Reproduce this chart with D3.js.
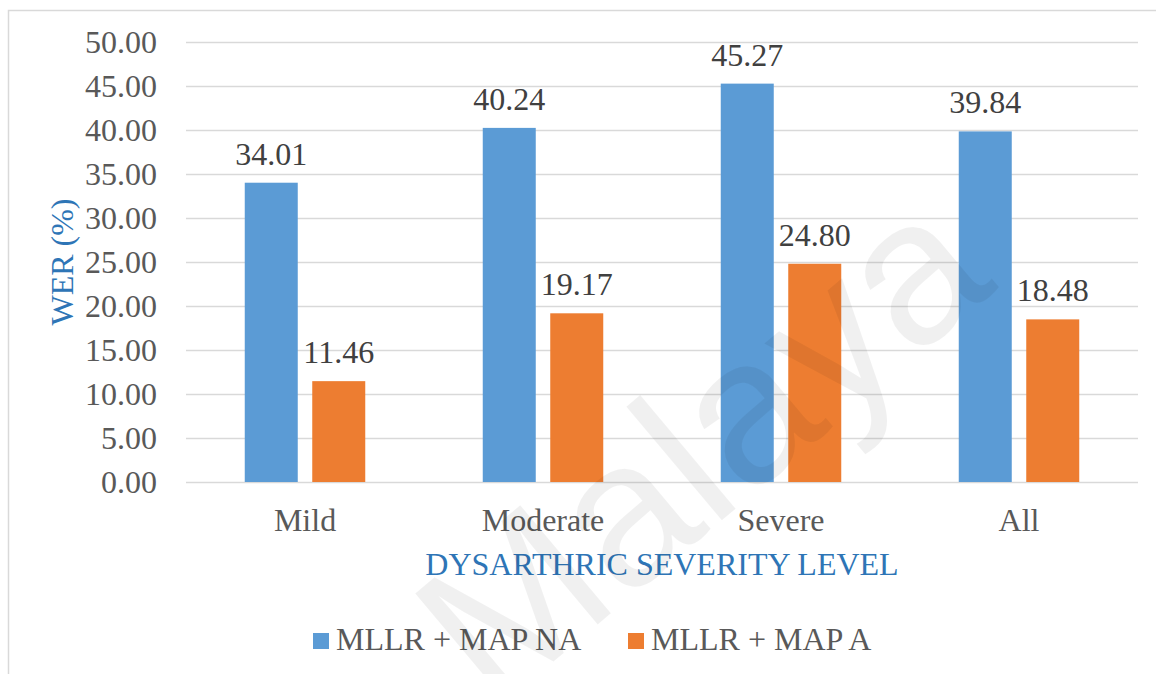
<!DOCTYPE html>
<html>
<head>
<meta charset="utf-8">
<script src="https://cdn.jsdelivr.net/npm/d3@7"></script>
<style>
  html, body { margin: 0; padding: 0; background: #fff; }
  svg { display: block; }
</style>
</head>
<body>
<svg id="chart" width="1156" height="674"></svg>
<script>
// WER by dysarthric severity level, two adaptation setups
const categories = ["Mild", "Moderate", "Severe", "All"];
const seriesNames = ["MLLR + MAP NA", "MLLR + MAP A"];
const werNA = [34.01, 40.24, 45.27, 39.84];
const werA = [11.46, 19.17, 24.80, 18.48];
const yTicks = [0, 5, 10, 15, 20, 25, 30, 35, 40, 45, 50];
const colors = ["#5B9BD5", "#ED7D31"];

const svg = d3.select("#chart");
const serif = "'Liberation Serif', 'Times New Roman', serif";
const fs = 32;

const plot = { left: 186, right: 1138, top: 42, bottom: 482 };

// outer chart frame
svg.append("rect")
  .attr("x", 8.5).attr("y", 10.5)
  .attr("width", 1300).attr("height", 800)
  .attr("fill", "none").attr("stroke", "#D9D9D9").attr("stroke-width", 1.5);

const x0 = d3.scaleBand().domain(categories).range([plot.left, plot.right]).padding(0);
const groupW = 120.5;
const x1 = d3.scaleBand().domain(seriesNames)
  .range([(x0.bandwidth() - groupW) / 2, (x0.bandwidth() + groupW) / 2])
  .paddingInner(14.5 / 67.5).paddingOuter(0);
const y = d3.scaleLinear().domain([0, 50]).range([plot.bottom, plot.top]);

// horizontal gridlines + tick labels
const yAxis = d3.axisLeft(y).tickValues(yTicks)
  .tickSize(-(plot.right - plot.left)).tickPadding(29)
  .tickFormat(d3.format(".2f"));
const gy = svg.append("g").attr("transform", `translate(${plot.left},0)`).call(yAxis);
gy.select(".domain").remove();
gy.selectAll(".tick line").attr("stroke", "#D9D9D9").attr("stroke-width", 1.6);
gy.selectAll(".tick text")
  .attr("font-family", serif).attr("font-size", fs)
  .attr("fill", "#595959");

// bars
const rows = categories.map((c, i) => ({ cat: c, vals: [werNA[i], werA[i]] }));
const groups = svg.append("g").selectAll("g").data(rows).join("g")
  .attr("transform", d => `translate(${x0(d.cat)},0)`);

groups.selectAll("rect")
  .data(d => d.vals.map((v, j) => ({ s: seriesNames[j], v, j })))
  .join("rect")
  .attr("x", d => x1(d.s))
  .attr("y", d => y(d.v))
  .attr("width", x1.bandwidth())
  .attr("height", d => y(0) - y(d.v))
  .attr("fill", d => colors[d.j]);

// value labels
groups.selectAll("text.val")
  .data(d => d.vals.map((v, j) => ({ s: seriesNames[j], v, j })))
  .join("text").attr("class", "val")
  .attr("x", d => x1(d.s) + x1.bandwidth() / 2)
  .attr("y", d => y(d.v) - 18)
  .attr("text-anchor", "middle")
  .attr("font-family", serif).attr("font-size", fs)
  .attr("fill", "#404040")
  .text(d => d.v.toFixed(2));

// category labels
const xAxis = d3.axisBottom(x0).tickSize(0).tickPadding(26);
const gx = svg.append("g").attr("transform", `translate(0,${plot.bottom})`).call(xAxis);
gx.select(".domain").remove();
gx.selectAll(".tick text")
  .attr("font-family", serif).attr("font-size", fs).attr("fill", "#595959");

// axis titles
svg.append("text")
  .attr("x", 662).attr("y", 575)
  .attr("text-anchor", "middle")
  .attr("font-family", serif).attr("font-size", fs)
  .attr("fill", "#2E75B6")
  .text("DYSARTHRIC SEVERITY LEVEL");

svg.append("text")
  .attr("transform", `translate(73,262) rotate(-90)`)
  .attr("text-anchor", "middle")
  .attr("font-family", serif).attr("font-size", fs)
  .attr("fill", "#2E75B6")
  .text("WER (%)");

// legend
const legendItems = [
  { name: seriesNames[0], color: colors[0], x: 313 },
  { name: seriesNames[1], color: colors[1], x: 628 }
];
const lg = svg.append("g").selectAll("g").data(legendItems).join("g")
  .attr("transform", d => `translate(${d.x},633)`);
lg.append("rect").attr("width", 16).attr("height", 16).attr("fill", d => d.color);
lg.append("text")
  .attr("x", 23).attr("y", 17)
  .attr("font-family", serif).attr("font-size", fs).attr("fill", "#595959")
  .text(d => d.name);

// watermark
svg.append("text")
  .attr("transform", "translate(700,445) rotate(-40)")
  .attr("text-anchor", "middle").attr("dy", "0.35em")
  .attr("font-family", "'Liberation Sans', Arial, sans-serif")
  .attr("font-size", 205)
  .attr("fill", "#000").attr("fill-opacity", 0.06)
  .text("Malaya");
</script>
</body>
</html>
